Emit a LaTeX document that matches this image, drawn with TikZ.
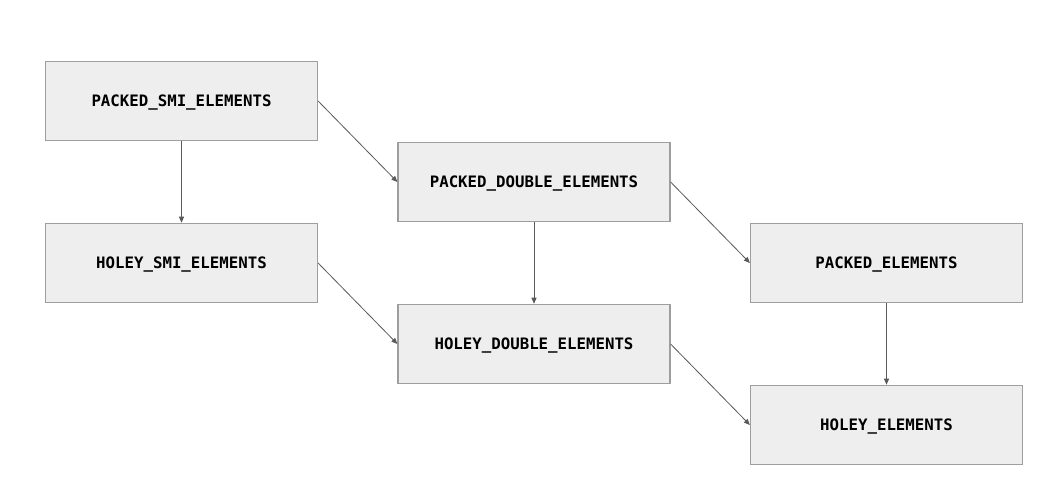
\documentclass[tikz,border=0pt]{standalone}
\usepackage{fontspec}
\setmonofont{DejaVu Sans Mono}
\usepackage{xcolor}
\usetikzlibrary{positioning,arrows.meta}
\definecolor{BoxFill}{HTML}{EEEEEE}
\definecolor{BoxLine}{HTML}{9E9E9E}
\definecolor{ArrowGray}{HTML}{595959}

\begin{document}
\begin{tikzpicture}[
        x=0.75pt, y=-0.75pt,
        % --- STYLE CÁC HỘP ---
        kind/.style={
            rectangle, draw=BoxLine, fill=BoxFill, line width=0.9pt,
            minimum width=204pt, minimum height=59.5pt,
            text depth=0pt,
            align=center, font=\ttfamily\bfseries\fontsize{11.8}{14}\selectfont
        },
        % --- STYLE MŨI TÊN ---
        trans/.style={
            draw=ArrowGray, line width=0.6pt,
            -{Triangle[length=4.5pt,width=3.8pt]}
        }
    ]
        \useasboundingbox (0,0) rectangle (1054,498);

        % --- CỘT 1: SMI ---
        \node[kind] (psmi) at (181.5,101) {PACKED\_SMI\_ELEMENTS};
        \node[kind] (hsmi) at (181.5,263) {HOLEY\_SMI\_ELEMENTS};
        % --- CỘT 2: DOUBLE ---
        \node[kind] (pdbl) at (534,182) {PACKED\_DOUBLE\_ELEMENTS};
        \node[kind] (hdbl) at (534,344) {HOLEY\_DOUBLE\_ELEMENTS};
        % --- CỘT 3: ELEMENTS ---
        \node[kind] (pel) at (886.5,263) {PACKED\_ELEMENTS};
        \node[kind] (hel) at (886.5,425) {HOLEY\_ELEMENTS};

        % --- PACKED -> HOLEY ---
        \draw[trans] (psmi) -- (hsmi);
        \draw[trans] (pdbl) -- (hdbl);
        \draw[trans] (pel) -- (hel);
        % --- SMI -> DOUBLE -> ELEMENTS ---
        \draw[trans] (psmi.east) -- (pdbl.west);
        \draw[trans] (hsmi.east) -- (hdbl.west);
        \draw[trans] (pdbl.east) -- (pel.west);
        \draw[trans] (hdbl.east) -- (hel.west);

    \end{tikzpicture}
\end{document}
